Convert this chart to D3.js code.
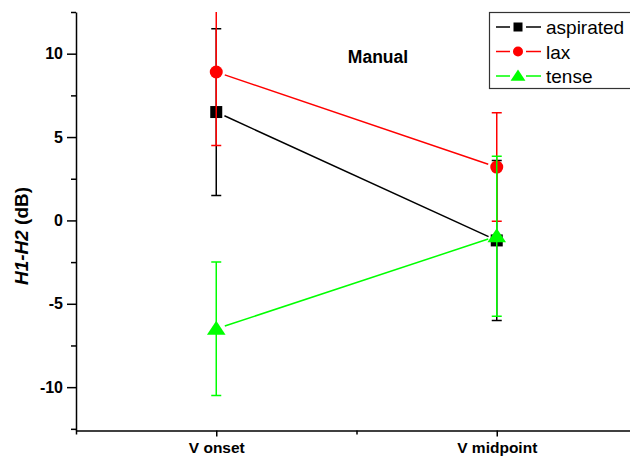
<!DOCTYPE html>
<html>
<head>
<meta charset="UTF-8">
<title>H1-H2 Manual</title>
<style>
  body { margin: 0; background: white; }
  svg { display: block; font-family: "Liberation Sans", Arial, sans-serif; }
  .axis path, .axis line { stroke: #000; stroke-width: 1.5; }
  .axis text { font-size: 16px; font-weight: bold; fill: #000; }
</style>
<script src="https://cdnjs.cloudflare.com/ajax/libs/d3/7.8.5/d3.min.js"></script>
</head>
<body>
<div id="chart"></div>
<script>
// data
const categories = ["V onset", "V midpoint"];
const seriesNames = ["aspirated", "lax", "tense"];
const seriesColors = ["#000000", "#ff0000", "#00ff00"];
const seriesShapes = ["square", "circle", "triangle"];
const aspiratedMean = [6.5, -1.2];
const aspiratedErr = [5.0, 4.8];
const laxMean = [8.9, 3.2];
const laxErr = [4.4, 3.25];
const tenseMean = [-6.5, -0.95];
const tenseErr = [4.0, 4.8];
const yMajorTicks = [-10, -5, 0, 5, 10];
const yMinorTicks = [-12.5, -7.5, -2.5, 2.5, 7.5, 12.5];

const width = 630, height = 457;
const plotLeft = 76, plotTop = 12, plotBottom = 430.5, plotRight = 637;

const series = seriesNames.map((name, i) => ({
  name,
  color: seriesColors[i],
  shape: seriesShapes[i],
  mean: [aspiratedMean, laxMean, tenseMean][i],
  err: [aspiratedErr, laxErr, tenseErr][i]
}));

const svg = d3.select("#chart").append("svg")
  .attr("width", width)
  .attr("height", height);

// categories sit at 1 and 2 on a 0.5..2.5 axis
const x = d3.scaleLinear().domain([0.5, 2.5]).range([plotLeft, plotRight]);
const y = d3.scaleLinear().domain([-12.6, 12.5]).range([plotBottom, plotTop]);

// axes
svg.append("g")
  .attr("class", "axis")
  .attr("transform", `translate(${plotLeft},0)`)
  .call(d3.axisLeft(y).tickValues(yMinorTicks).tickSize(5).tickSizeOuter(0).tickFormat(""))
  .call(g => g.select(".domain").remove());

svg.append("g")
  .attr("class", "axis")
  .attr("transform", `translate(${plotLeft},0)`)
  .call(d3.axisLeft(y).tickValues(yMajorTicks).tickSize(9).tickPadding(4).tickSizeOuter(0)
    .tickFormat(d => String(d)));

svg.append("g")
  .attr("class", "axis")
  .attr("transform", `translate(0,${plotBottom})`)
  .call(d3.axisBottom(x).tickValues([0.5, 1.5, 2.5]).tickSize(4).tickSizeOuter(0).tickFormat(""))
  .call(g => g.select(".domain").remove());

svg.append("g")
  .attr("class", "axis")
  .attr("transform", `translate(0,${plotBottom})`)
  .call(d3.axisBottom(x).tickValues([1, 2]).tickSize(6).tickPadding(5).tickSizeOuter(0)
    .tickFormat(d => categories[d - 1]))
  .call(g => g.selectAll("text").style("font-size", "15.5px"));

// y axis title
const ylab = svg.append("text")
  .attr("transform", "translate(28,236) rotate(-90)")
  .attr("text-anchor", "middle")
  .style("font-size", "19px")
  .style("font-weight", "bold");
ylab.append("tspan").style("font-style", "italic").text("H1-H2");
ylab.append("tspan").text(" (dB)");

svg.append("text")
  .attr("x", 378).attr("y", 63)
  .attr("text-anchor", "middle")
  .style("font-size", "17.5px")
  .style("font-weight", "bold")
  .text("Manual");

svg.append("clipPath").attr("id", "plot")
  .append("rect").attr("x", plotLeft).attr("y", plotTop)
  .attr("width", plotRight - plotLeft).attr("height", plotBottom - plotTop);

function marker(g, shape, color, cx, cy, s) {
  if (shape === "square") {
    g.append("rect").attr("x", cx - s / 2).attr("y", cy - s / 2)
      .attr("width", s).attr("height", s).attr("fill", color);
  } else if (shape === "circle") {
    g.append("circle").attr("cx", cx).attr("cy", cy).attr("r", s / 2 + 0.5).attr("fill", color);
  } else {
    const h = s * 0.9;
    g.append("path")
      .attr("d", `M${cx},${cy - h * 0.6}L${cx + s * 0.62},${cy + h * 0.45}L${cx - s * 0.62},${cy + h * 0.45}Z`)
      .attr("fill", color);
  }
}

const plot = svg.append("g").attr("clip-path", "url(#plot)");
const gap = 9;

series.forEach(s => {
  const g = plot.append("g");
  const pts = s.mean.map((m, i) => [x(i + 1), y(m)]);

  // error bars
  s.mean.forEach((m, i) => {
    const cx = x(i + 1);
    g.append("line")
      .attr("x1", cx).attr("x2", cx)
      .attr("y1", y(m + s.err[i])).attr("y2", y(m - s.err[i]))
      .attr("stroke", s.color).attr("stroke-width", 1.5);
    [m + s.err[i], m - s.err[i]].forEach(v => {
      g.append("line")
        .attr("x1", cx - 5).attr("x2", cx + 5)
        .attr("y1", y(v)).attr("y2", y(v))
        .attr("stroke", s.color).attr("stroke-width", 1.5);
    });
  });

  // connecting line with gaps near the markers
  const [p0, p1] = pts;
  const dx = p1[0] - p0[0], dy = p1[1] - p0[1];
  const len = Math.hypot(dx, dy);
  const ux = dx / len, uy = dy / len;
  g.append("line")
    .attr("x1", p0[0] + ux * gap).attr("y1", p0[1] + uy * gap)
    .attr("x2", p1[0] - ux * gap).attr("y2", p1[1] - uy * gap)
    .attr("stroke", s.color).attr("stroke-width", 1.5);

  pts.forEach(p => marker(g, s.shape, s.color, p[0], p[1], s.shape === "triangle" ? 15 : 12));
});

// legend
const lg = svg.append("g");
lg.append("rect")
  .attr("x", 489.5).attr("y", 12.5).attr("width", 160).attr("height", 76)
  .attr("fill", "white").attr("stroke", "#333").attr("stroke-width", 1.2);

series.forEach((s, i) => {
  const ly = 27 + i * 24.5;
  lg.append("line").attr("x1", 496).attr("x2", 510).attr("y1", ly).attr("y2", ly)
    .attr("stroke", s.color).attr("stroke-width", 1.5);
  lg.append("line").attr("x1", 526).attr("x2", 541).attr("y1", ly).attr("y2", ly)
    .attr("stroke", s.color).attr("stroke-width", 1.5);
  marker(lg, s.shape, s.color, 518, ly, s.shape === "triangle" ? 12 : 9);
  lg.append("text")
    .attr("x", 546).attr("y", ly + 7)
    .style("font-size", "19px")
    .text(s.name);
});
</script>
</body>
</html>
